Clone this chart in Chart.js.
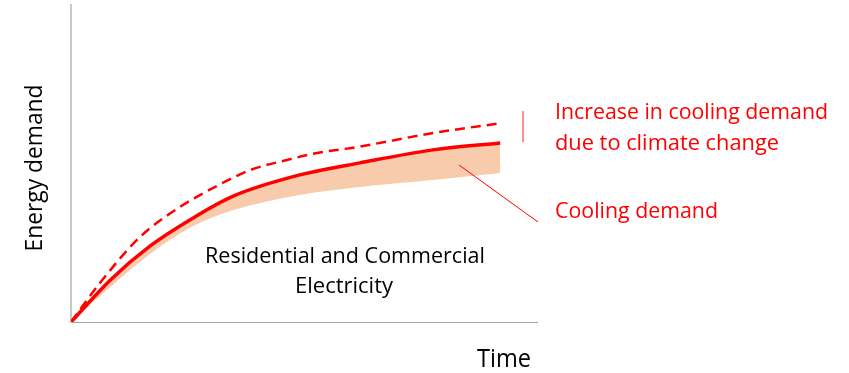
<!DOCTYPE html>
<html>
<head>
<meta charset="utf-8">
<script src="https://cdn.jsdelivr.net/npm/chart.js@4.4.1/dist/chart.umd.min.js"></script>
<style>
  html, body { margin: 0; padding: 0; background: #ffffff; }
  #wrap { width: 849px; height: 373px; position: relative; }
</style>
</head>
<body>
<div id="wrap"><canvas id="chart" width="849" height="373"></canvas></div>
<script>
// Time axis positions (arbitrary units, 0..100)
const timeSteps = [0, 8.4, 17.0, 25.5, 34.8, 49.1, 62.0, 77.7, 92.1];
// Electricity demand including cooling, current climate
const demandCurrent = [0, 13.2, 24.0, 32.2, 39.7, 46.4, 50.2, 54.3, 56.5];
// Lower edge of the cooling-demand band
const demandWithoutCooling = [0, 11.0, 21.5, 29.7, 35.3, 40.1, 42.6, 44.8, 47.0];

// Demand with the extra cooling caused by climate change
const timeStepsClimate = [0, 6.2, 14.8, 23.4, 31.3, 38.4, 45.5, 52.8, 61.4, 77.7, 92.5];
const demandClimate = [0, 12.3, 26.8, 36.3, 42.9, 47.9, 50.8, 53.3, 55.2, 59.6, 62.8];

const RED = '#ff0000';
const BAND = '#f8cbad';
const FONT = '"Open Sans", "DejaVu Sans", sans-serif';

function pairs(xs, ys) { return xs.map((x, i) => ({ x: x, y: ys[i] })); }

// Draws a text line squeezed/stretched to a given width
function drawText(ctx, text, x, y, size, width, color, align) {
  ctx.save();
  ctx.font = size + 'px ' + FONT;
  ctx.fillStyle = color;
  ctx.textBaseline = 'alphabetic';
  ctx.textAlign = 'left';
  const w = ctx.measureText(text).width;
  const sx = width / w;
  let left = x;
  if (align === 'center') left = x - width / 2;
  ctx.translate(left, y);
  ctx.scale(sx, 1);
  ctx.fillText(text, 0, 0);
  ctx.restore();
}

const annotations = {
  id: 'annotations',
  afterDraw(chart) {
    const ctx = chart.ctx;
    // bracket marking the climate-change increase
    ctx.save();
    ctx.strokeStyle = 'rgba(255,0,0,0.6)';
    ctx.lineWidth = 1.5;
    ctx.beginPath();
    ctx.moveTo(523, 111);
    ctx.lineTo(523, 142);
    ctx.stroke();
    // leader line to the cooling band
    ctx.strokeStyle = RED;
    ctx.lineWidth = 1;
    ctx.beginPath();
    ctx.moveTo(459, 165);
    ctx.lineTo(538, 222);
    ctx.stroke();
    ctx.restore();

    drawText(ctx, 'Increase in cooling demand', 555, 119, 22, 273, RED);
    drawText(ctx, 'due to climate change', 555, 150, 22, 224, RED);
    drawText(ctx, 'Cooling demand', 555, 218, 22, 163, RED);

    drawText(ctx, 'Residential and Commercial', 345, 263, 22, 280, '#000', 'center');
    drawText(ctx, 'Electricity', 344, 293, 22, 98, '#000', 'center');

    drawText(ctx, 'Time', 477, 367, 26, 54, '#000');

    ctx.save();
    ctx.translate(42, 168);
    ctx.rotate(-Math.PI / 2);
    drawText(ctx, 'Energy demand', 0, 0, 23, 167, '#000', 'center');
    ctx.restore();
  }
};

new Chart(document.getElementById('chart'), {
  type: 'line',
  data: {
    datasets: [
      {
        label: 'With climate change',
        data: pairs(timeStepsClimate, demandClimate),
        borderColor: RED,
        borderWidth: 2.5,
        borderDash: [10, 6],
        pointRadius: 0,
        cubicInterpolationMode: 'monotone',
        fill: false,
        order: 0
      },
      {
        label: 'Residential and Commercial Electricity',
        data: pairs(timeSteps, demandCurrent),
        borderColor: RED,
        borderWidth: 3.5,
        pointRadius: 0,
        cubicInterpolationMode: 'monotone',
        fill: false,
        order: 1
      },
      {
        label: 'Cooling demand',
        data: pairs(timeSteps, demandWithoutCooling),
        borderColor: BAND,
        backgroundColor: BAND,
        borderWidth: 0,
        pointRadius: 0,
        cubicInterpolationMode: 'monotone',
        fill: 1,
        order: 2
      }
    ]
  },
  options: {
    responsive: false,
    animation: false,
    layout: { padding: { left: 71, right: 312, top: 5, bottom: 51 } },
    plugins: { legend: { display: false }, tooltip: { enabled: false } },
    scales: {
      x: {
        type: 'linear', min: 0, max: 100,
        grid: { display: false, drawTicks: false },
        ticks: { display: false },
        border: { color: '#a6a6a6', width: 1 }
      },
      y: {
        min: 0, max: 100,
        grid: { display: false, drawTicks: false },
        ticks: { display: false },
        border: { color: '#c8c8c8', width: 2 }
      }
    }
  },
  plugins: [annotations]
});
</script>
</body>
</html>
